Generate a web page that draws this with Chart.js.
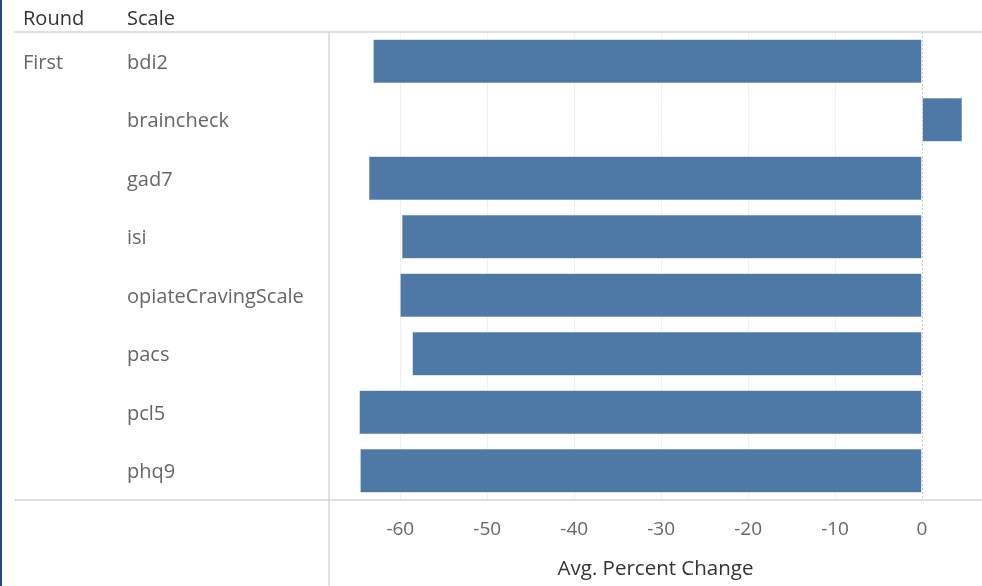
<!DOCTYPE html>
<html>
<head>
<meta charset="utf-8">
<script src="https://cdn.jsdelivr.net/npm/chart.js@4.4.1/dist/chart.umd.min.js"></script>
<style>
  html, body { margin: 0; padding: 0; background: #fff; }
  #wrap { width: 982px; height: 586px; position: relative; }
</style>
</head>
<body>
<div id="wrap"><canvas id="scaleChart"></canvas></div>
<script>
// Data
const scales = ['bdi2', 'braincheck', 'gad7', 'isi', 'opiateCravingScale', 'pacs', 'pcl5', 'phq9'];
const avgPercentChange = [-63.1, 4.6, -63.6, -59.8, -60.0, -58.6, -64.7, -64.6];
const roundLabel = 'First';
const xTicks = [-60, -50, -40, -30, -20, -10, 0];

const FONT = '"Open Sans", "Noto Sans", sans-serif';
const BAR = '#4e79a7';

// Table frame, headers and the zero line (Tableau style)
const framePlugin = {
    id: 'frame',
    afterDraw(chart) {
        const c = chart.ctx;
        const area = chart.chartArea;
        const x = chart.scales.x;
        const W = chart.width, H = chart.height;
        c.save();

        // dashed zero line
        const x0 = Math.round(x.getPixelForValue(0)) + 0.5;
        c.strokeStyle = '#c8c8c8';
        c.lineWidth = 1;
        c.setLineDash([2, 2]);
        c.beginPath();
        c.moveTo(x0, area.top);
        c.lineTo(x0, area.bottom);
        c.stroke();
        c.setLineDash([]);

        // row/column dividers
        c.strokeStyle = '#d6d6d6';
        c.lineWidth = 1.5;
        c.beginPath();
        c.moveTo(14, area.top); c.lineTo(W, area.top);
        c.moveTo(14, area.bottom); c.lineTo(W, area.bottom);
        c.moveTo(area.left, area.top); c.lineTo(area.left, H);
        c.stroke();

        // left edge
        c.fillStyle = '#1c4a86';
        c.fillRect(0, 0, 2, H);

        // header texts
        c.font = '20px ' + FONT;
        c.textBaseline = 'middle';
        c.textAlign = 'left';
        c.fillStyle = '#333';
        c.fillText('Round', 23, 19);
        c.fillText('Scale', 127, 19);

        c.fillStyle = '#666';
        const y0 = chart.scales.y.getPixelForValue(0);
        c.fillText(roundLabel, 23, y0 + 2);
        c.restore();
    }
};

new Chart(document.getElementById('scaleChart'), {
    type: 'bar',
    data: {
        labels: scales,
        datasets: [{
            label: 'Avg. Percent Change',
            data: avgPercentChange,
            backgroundColor: BAR,
            borderColor: '#6b8fb8',
            borderWidth: 0.5,
            borderSkipped: false,
            categoryPercentage: 0.74,
            barPercentage: 1
        }]
    },
    options: {
        indexAxis: 'y',
        responsive: true,
        maintainAspectRatio: false,
        animation: false,
        layout: { padding: { left: 127, top: 32, right: 0, bottom: 0 } },
        plugins: {
            legend: { display: false },
            tooltip: { enabled: false }
        },
        scales: {
            x: {
                min: -68.2,
                max: 6.9,
                afterBuildTicks: function(scale) {
                    scale.ticks = xTicks.map(v => ({ value: v }));
                },
                afterFit: function(scale) { scale.height = 86; },
                grid: {
                    color: function(ctx) {
                        return ctx.tick && ctx.tick.value === 0 ? 'rgba(0,0,0,0)' : '#f0f0f0';
                    },
                    drawTicks: false
                },
                border: { display: false },
                ticks: {
                    color: '#666',
                    padding: 18,
                    font: { family: FONT, size: 19 }
                },
                title: {
                    display: true,
                    text: 'Avg. Percent Change',
                    color: '#333',
                    padding: { top: 0, bottom: 5 },
                    font: { family: FONT, size: 20.5 }
                }
            },
            y: {
                afterFit: function(scale) { scale.width = 202; },
                grid: { display: false },
                border: { display: false },
                ticks: {
                    crossAlign: 'far',
                    padding: 0,
                    labelOffset: 2,
                    color: '#666',
                    font: { family: FONT, size: 20 }
                }
            }
        }
    },
    plugins: [framePlugin]
});
</script>
</body>
</html>
